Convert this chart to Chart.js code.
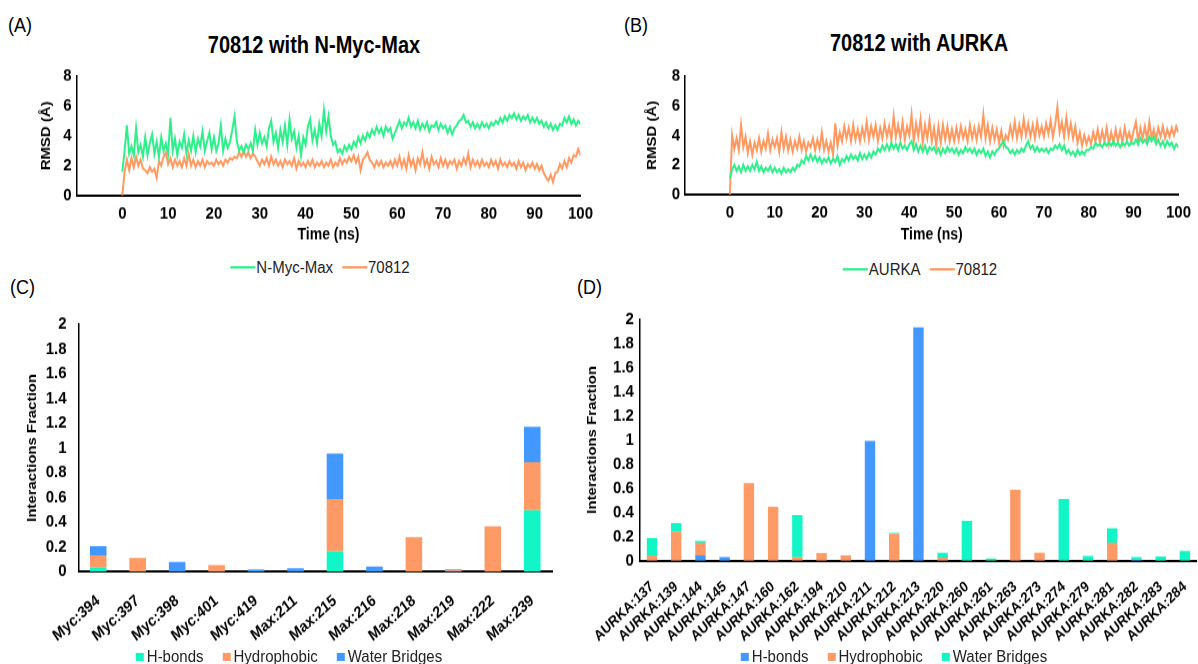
<!DOCTYPE html>
<html><head><meta charset="utf-8">
<script src="https://cdn.jsdelivr.net/npm/chart.js@4.4.1/dist/chart.umd.min.js"></script>
<style>
html,body{margin:0;padding:0;background:#fff;overflow:hidden;width:1198px;height:664px;font-family:"Liberation Sans",Arial,sans-serif;}
.abs{position:absolute;}
.letter{font-size:18px;line-height:22px;color:#000;transform:scaleY(1.15);transform-origin:0 0;}
.title{font-weight:bold;font-size:20px;line-height:24px;color:#000;transform:translateX(-50%) scaleY(1.15);transform-origin:50% 0;white-space:nowrap;}
.legend{display:flex;align-items:center;transform:translateX(-50%) scaleY(1.15);transform-origin:50% 0;white-space:nowrap;font-size:15px;line-height:18px;color:#222;}
.sw-line{display:inline-block;width:25px;height:2px;margin-right:1px;}
.sw-box{display:inline-block;width:8px;height:7px;margin-right:3px;}
.gap-l{display:inline-block;width:9px;}
.gap-b{display:inline-block;width:19px;}
.wrap{position:absolute;transform:scaleY(1.15);transform-origin:0 0;}
canvas{display:block;}
</style>
</head><body>
<div class="abs letter" style="left:8px;top:12px;">(A)</div>
<div class="abs letter" style="left:624px;top:12px;">(B)</div>
<div class="abs letter" style="left:10px;top:274px;">(C)</div>
<div class="abs letter" style="left:577px;top:274px;">(D)</div>
<div class="abs title" style="left:314px;top:31px;">70812 with N-Myc-Max</div>
<div class="abs title" style="left:919px;top:29px;">70812 with AURKA</div>

<div class="wrap" style="left:0px;top:60px;"><canvas id="cA" width="600" height="163"></canvas></div>
<div class="wrap" style="left:600px;top:60px;"><canvas id="cB" width="598" height="163"></canvas></div>
<div class="wrap" style="left:0px;top:300px;"><canvas id="cC" width="600" height="317"></canvas></div>
<div class="wrap" style="left:580px;top:300px;"><canvas id="cD" width="630" height="317"></canvas></div>

<div class="abs legend" style="left:320px;top:257px;"><span class="sw-line" style="background:#2DF08A"></span>N-Myc-Max<span class="gap-l"></span><span class="sw-line" style="background:#FF9960"></span>70812</div>
<div class="abs legend" style="left:920px;top:259px;"><span class="sw-line" style="background:#2DF08A"></span>AURKA<span class="gap-l"></span><span class="sw-line" style="background:#FF9960"></span>70812</div>
<div class="abs legend" style="left:289px;top:646px;"><span class="sw-box" style="background:#12F5C7"></span>H-bonds<span class="gap-b"></span><span class="sw-box" style="background:#FD9A66"></span>Hydrophobic<span class="gap-b"></span><span class="sw-box" style="background:#4298FF"></span>Water Bridges</div>
<div class="abs legend" style="left:894px;top:646px;"><span class="sw-box" style="background:#4298FF"></span>H-bonds<span class="gap-b"></span><span class="sw-box" style="background:#FD9A66"></span>Hydrophobic<span class="gap-b"></span><span class="sw-box" style="background:#12F5C7"></span>Water Bridges</div>

<script>
// ---------- DATA ----------
const timeStepNs = 0.5;
const timeTicks = [0,10,20,30,40,50,60,70,80,90,100];

const rmsdNMycMax = [
1.6,3.0,4.7,2.8,3.3,2.7,4.5,2.9,3.4,2.6,
3.9,2.7,3.5,4.1,2.8,3.6,2.6,3.9,3.0,3.5,
2.8,5.2,3.0,3.8,2.7,3.6,3.2,4.1,2.8,3.7,
3.0,4.0,2.9,3.8,3.3,4.3,3.0,3.6,4.2,3.1,
3.9,3.0,3.5,4.7,3.0,3.8,3.2,3.6,4.4,5.3,
3.6,3.0,3.3,2.9,3.4,3.1,3.5,3.0,4.4,3.4,
4.2,3.5,3.9,3.3,4.5,5.0,3.6,4.2,3.2,4.4,
3.6,4.7,3.4,5.1,3.8,4.3,3.2,4.0,2.7,3.9,
3.4,4.6,5.1,3.7,4.4,3.5,4.8,4.0,5.7,4.3,
5.3,4.0,3.4,3.6,2.9,3.1,2.8,3.3,3.0,3.4,
3.1,3.6,3.3,3.9,3.5,4.0,3.7,4.2,3.9,4.4,
4.1,4.6,4.2,4.5,4.0,4.6,4.3,4.5,3.8,4.2,
4.6,5.0,4.5,4.9,4.7,5.2,4.6,4.9,4.5,5.0,
4.4,4.8,4.5,4.9,4.3,4.7,4.6,4.9,4.4,4.8,
4.5,4.7,4.2,4.6,4.1,4.5,4.7,5.0,5.1,5.4,
4.9,5.0,4.6,4.9,4.5,4.8,4.5,4.9,4.6,4.8,
4.5,4.9,4.7,5.0,4.8,5.2,4.9,5.3,5.0,5.4,
5.2,5.5,5.1,5.4,5.0,5.3,5.1,5.4,4.9,5.2,
4.9,5.2,4.8,5.0,4.6,4.9,4.5,4.8,4.4,4.7,
4.4,4.8,4.7,5.2,4.9,5.3,4.8,5.1,4.7,5.0,
4.8];

const rmsdLigandA = [
0.0,1.6,2.4,1.7,2.5,1.9,2.6,2.0,2.4,1.8,
1.7,1.5,1.9,1.6,1.8,1.2,2.3,2.0,2.6,2.9,
2.1,2.5,1.9,2.4,2.0,2.3,1.9,2.5,2.0,2.8,
2.0,2.4,1.9,2.3,2.0,2.4,1.9,2.3,2.1,2.2,
2.0,2.4,2.1,2.3,2.0,2.4,2.2,2.5,2.4,2.6,
2.5,2.9,2.6,3.0,2.6,2.9,2.5,2.8,2.6,2.3,
2.0,2.4,2.1,2.5,2.0,2.6,2.1,2.4,2.0,2.3,
1.9,2.4,2.1,2.3,2.0,2.5,1.8,2.3,2.0,2.2,
1.9,2.3,2.0,2.4,1.9,2.2,2.0,2.3,1.9,2.2,
2.0,2.4,1.9,2.2,2.0,2.5,2.1,2.4,2.2,2.6,
2.3,2.7,2.2,2.6,1.7,2.4,2.6,2.9,2.4,2.2,
1.9,2.3,2.0,2.3,1.9,2.2,2.0,2.3,1.9,2.4,
2.0,2.6,1.9,2.4,1.8,2.7,2.0,2.4,1.7,2.5,
2.1,2.9,2.0,2.4,1.8,2.6,2.1,2.3,1.9,2.5,
2.0,2.4,1.9,2.3,2.1,2.4,1.8,2.3,2.0,2.5,
2.1,2.8,1.9,2.4,2.0,2.3,1.9,2.4,2.0,2.2,
1.9,2.4,2.0,2.3,1.8,2.4,2.0,2.2,1.9,2.3,
2.0,2.2,1.8,2.3,1.9,2.2,1.7,2.1,1.9,2.2,
1.8,2.1,1.7,2.0,1.5,1.2,1.0,1.4,0.9,1.5,
1.6,2.1,1.8,2.3,1.9,2.5,2.2,2.7,2.6,3.1,
2.7];

const rmsdAURKA = [
1.1,1.7,2.0,1.6,1.9,1.5,2.0,1.6,1.9,1.6,
2.0,1.7,2.2,1.6,1.9,1.5,1.8,1.6,1.9,1.5,
1.8,1.5,1.7,1.4,1.8,1.5,1.7,1.5,1.8,1.6,
2.0,1.9,2.3,2.1,2.6,2.3,2.7,2.3,2.6,2.2,
2.5,2.1,2.4,2.2,2.5,2.1,2.4,2.2,2.6,2.0,
2.4,2.2,2.6,2.3,2.7,2.4,2.6,2.3,2.8,2.4,
2.7,2.4,2.8,2.5,2.9,2.7,3.1,2.9,3.3,3.0,
3.4,3.0,3.5,3.1,3.4,3.0,3.5,3.1,3.3,3.0,
3.4,3.6,3.0,3.4,2.9,3.3,2.9,3.3,2.8,3.2,
3.0,3.2,2.8,3.1,2.7,3.1,2.8,3.2,2.9,3.1,
2.8,3.1,2.7,3.0,2.8,3.2,2.9,3.1,2.8,3.1,
2.7,3.0,2.8,3.1,2.6,2.9,2.5,2.9,2.7,3.0,
3.1,3.4,3.6,3.2,3.1,2.8,3.0,2.7,3.0,2.8,
3.1,2.9,3.3,3.6,3.1,3.3,2.9,3.2,2.9,3.1,
2.9,3.1,2.8,3.1,3.0,3.3,3.1,3.4,3.0,3.3,
2.8,3.0,2.7,2.9,2.6,3.0,2.7,2.9,2.7,3.0,
3.0,3.2,3.1,3.5,3.3,3.4,3.2,3.5,3.3,3.5,
3.3,3.6,3.3,3.5,3.2,3.5,3.3,3.6,3.3,3.5,
3.4,3.7,3.4,3.8,3.5,3.7,3.4,3.9,3.6,3.9,
3.4,3.7,3.3,3.6,3.2,3.6,3.3,3.5,3.1,3.4,
3.2];

const rmsdLigandB = [
0.0,4.0,3.1,3.8,3.0,4.7,3.2,3.9,2.8,3.6,
2.7,3.5,3.0,3.8,2.9,3.6,3.1,4.1,3.0,3.7,
3.2,3.8,2.9,4.2,3.1,3.9,3.0,3.7,2.9,3.6,
3.1,3.9,3.0,3.6,2.9,3.5,3.2,3.8,3.0,3.7,
3.1,4.2,3.0,3.6,2.9,3.5,2.7,4.8,3.3,4.2,
3.6,4.6,3.8,4.5,3.6,4.7,3.7,4.4,3.6,4.5,
3.8,4.9,3.7,4.6,3.9,4.7,3.6,4.5,3.8,4.8,
3.9,4.6,3.7,5.3,3.9,4.7,3.8,4.9,3.7,4.6,
4.0,5.4,3.6,4.8,3.9,5.1,3.5,4.7,3.8,5.0,
3.6,4.5,3.3,4.6,3.5,4.7,3.7,4.6,3.6,4.4,
3.6,4.5,3.7,4.6,3.8,4.4,3.6,4.7,3.8,4.5,
3.7,4.6,3.9,5.4,3.8,4.7,3.6,4.5,3.7,4.4,
3.5,4.3,3.3,4.0,3.7,4.6,3.9,4.9,3.8,4.7,
3.9,5.1,4.0,4.8,3.9,4.7,3.8,4.9,4.0,4.6,
3.9,4.8,4.1,5.0,3.9,4.7,5.9,4.2,4.9,3.9,
5.2,4.0,4.8,3.8,4.6,3.5,4.2,3.3,4.0,3.4,
3.9,3.4,4.2,3.6,4.4,3.5,4.3,3.6,4.5,3.4,
4.2,3.5,4.4,3.6,4.3,3.5,4.5,3.7,4.2,3.6,
4.3,4.9,3.6,4.5,3.8,4.6,3.7,4.9,3.8,4.4,
3.7,4.5,3.9,4.6,3.8,4.4,3.9,4.5,4.0,4.6,
4.2];

// Interaction fractions, panel C
const residuesC = ['Myc:394','Myc:397','Myc:398','Myc:401','Myc:419','Max:211','Max:215','Max:216','Max:218','Max:219','Max:222','Max:239'];
const hbondsC      = [0.034,0,0,0,0,0,0.164,0,0,0,0,0.497];
const hydrophobicC = [0.098,0.111,0,0.053,0,0,0.425,0,0.28,0.012,0.367,0.388];
const waterBridgesC= [0.074,0,0.079,0,0.018,0.029,0.365,0.042,0,0.008,0,0.285];

// Interaction fractions, panel D
const residuesD = ['AURKA:137','AURKA:139','AURKA:144','AURKA:145','AURKA:147','AURKA:160','AURKA:162','AURKA:194','AURKA:210','AURKA:211','AURKA:212','AURKA:213','AURKA:220','AURKA:260','AURKA:261','AURKA:263','AURKA:273','AURKA:274','AURKA:279','AURKA:281','AURKA:282','AURKA:283','AURKA:284'];
const hbondsD      = [0,0,0.044,0.03,0,0,0,0,0,0.992,0,1.93,0,0,0,0,0,0,0,0,0.01,0,0];
const hydrophobicD = [0.044,0.243,0.105,0,0.641,0.447,0.028,0.064,0.044,0,0.224,0,0.025,0,0,0.588,0.066,0,0,0.149,0,0,0];
const waterBridgesD= [0.144,0.069,0.014,0,0,0,0.35,0,0,0,0.006,0,0.041,0.329,0.019,0,0,0.511,0.039,0.119,0.02,0.036,0.08];

// ---------- STYLE ----------
const FONT = '"Liberation Sans", Arial, sans-serif';
const GREEN = '#2DF08A', ORANGE_L = '#FF9960';
const TEAL = '#12F5C7', ORANGE = '#FD9A66', BLUE = '#4298FF';

function xy(arr){ return arr.map((v,i)=>({x:i*timeStepNs, y:v})); }

function lineChart(id, names, s1, s2, o){
  return new Chart(document.getElementById(id), {
    type:'line',
    data:{datasets:[
      {label:names[0], data:xy(s1), borderColor:GREEN, borderWidth:2, pointRadius:0, tension:0},
      {label:names[1], data:xy(s2), borderColor:ORANGE_L, borderWidth:2, pointRadius:0, tension:0}
    ]},
    options:{
      responsive:false, animation:false, events:[],
      layout:{padding:{top:o.top, right:o.right, bottom:0, left:0}},
      plugins:{legend:{display:false}, tooltip:{enabled:false}},
      scales:{
        x:{type:'linear', min:-10, max:100,
           afterBuildTicks:s=>{ s.ticks = timeTicks.map(v=>({value:v})); },
           ticks:{autoSkip:false, maxRotation:0, padding:7, color:'#000', font:{family:FONT, size:15, weight:'bold'}},
           grid:{display:false, drawTicks:false},
           border:{display:true, color:'#000', width:2},
           title:{display:true, text:'Time (ns)', color:'#000', font:{family:FONT, size:14, weight:'bold'}, padding:{top:0,bottom:2}},
           afterFit:s=>{ s.height = o.xh; }},
        y:{min:0, max:8,
           ticks:{stepSize:2, padding:5, color:'#000', font:{family:FONT, size:15, weight:'bold'}},
           grid:{display:false, drawTicks:false},
           border:{display:true, color:'#000', width:1.5},
           title:{display:true, text:'RMSD (Å)', color:'#000', font:{family:FONT, size:13, weight:'bold'}, padding:{top:o.ytp, bottom:0}},
           afterFit:s=>{ s.width = o.yw; }}
      }
    }
  });
}

function barChart(id, cats, hb, hy, wb, cols, o){
  return new Chart(document.getElementById(id), {
    type:'bar',
    data:{labels:cats, datasets:[
      {label:'H-bonds', data:hb, backgroundColor:cols[0]},
      {label:'Hydrophobic', data:hy, backgroundColor:cols[1]},
      {label:'Water Bridges', data:wb, backgroundColor:cols[2]}
    ]},
    options:{
      responsive:false, animation:false, events:[],
      layout:{padding:{top:o.top, right:o.right, bottom:0, left:0}},
      datasets:{bar:{barPercentage:o.bp, categoryPercentage:1, borderWidth:0}},
      plugins:{legend:{display:false}, tooltip:{enabled:false}},
      scales:{
        x:{stacked:true,
           ticks:{autoSkip:false, minRotation:o.rot, maxRotation:o.rot, padding:o.xtp, color:'#000', font:{family:FONT, size:o.xfs, weight:'bold'}},
           grid:{display:false, drawTicks:false},
           border:{display:true, color:'#000', width:2},
           afterFit:s=>{ s.height = o.xh; }},
        y:{stacked:true, min:0, max:2,
           ticks:{stepSize:0.2, padding:o.ytpad, color:'#000', font:{family:FONT, size:15, weight:'bold'},
                  callback:v=>String(Math.round(v*10)/10)},
           grid:{display:false, drawTicks:false},
           border:{display:true, color:'#000', width:1.5},
           title:{display:true, text:'Interactions Fraction', color:'#000', font:{family:FONT, size:13, weight:'bold'}, padding:{top:o.ytp, bottom:0}},
           afterFit:s=>{ s.width = o.yw; }}
      }
    }
  });
}

lineChart('cA', ['N-Myc-Max','70812'], rmsdNMycMax, rmsdLigandA, {top:10.4, right:15.3, xh:45.2, yw:76.5, ytp:39});
lineChart('cB', ['AURKA','70812'], rmsdAURKA, rmsdLigandB, {top:9.6, right:13.3, xh:46.1, yw:85, ytp:45});
barChart('cC', residuesC, hbondsC, hydrophobicC, waterBridgesC, [TEAL, ORANGE, BLUE],
  {top:16.8, right:48, xh:80.7, yw:78.5, ytp:24.5, ytpad:12, bp:0.42, xtp:17, xfs:14, rot:38});
barChart('cD', residuesD, hbondsD, hydrophobicD, waterBridgesD, [BLUE, ORANGE, TEAL],
  {top:16.5, right:5.2, xh:90.3, yw:59, ytp:4, ytpad:6, bp:0.43, xtp:15, xfs:13, rot:40});
</script>
</body></html>
